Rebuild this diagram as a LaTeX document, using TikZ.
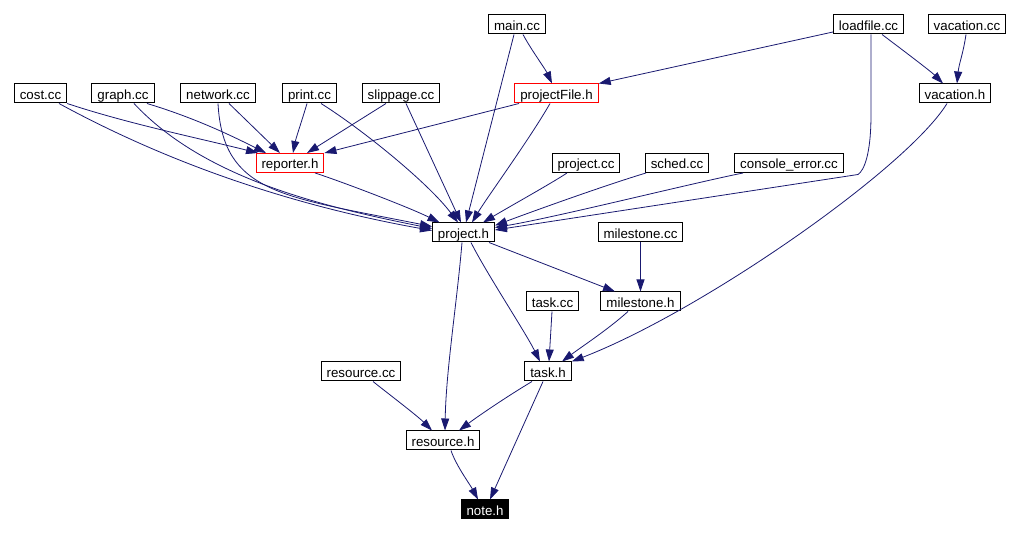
\documentclass[tikz,border=0pt]{standalone}
\usepackage{fontspec}
\setmainfont{Liberation Sans}
\usetikzlibrary{arrows.meta}
\definecolor{inkedge}{HTML}{191970}
\definecolor{inkred}{HTML}{FF0000}
\newcommand{\filebox}[4][]{%
  \node[draw=black, line width=1pt, fill=white, minimum height=19pt,
        inner xsep=5.5pt, inner ysep=0pt, text height=11.5pt, text depth=0pt,
        text=black, #1] (#2) at (#3) {#4};}

\begin{document}
\begin{tikzpicture}[x=1pt, y=-1pt, font=\fontsize{13.3}{16}\selectfont,
    dep/.style={-{Triangle[length=12pt, width=8pt]}, inkedge, line width=0.8pt}]
  \useasboundingbox (0,0) rectangle (1021,534);
  % sources and headers, row by row
  \filebox{main}{517,24.5}{main.cc}
  \filebox{loadfile}{868.5,24.5}{loadfile.cc}
  \filebox{vacationcc}{967,24.5}{vacation.cc}
  \filebox{cost}{40.5,93.5}{cost.cc}
  \filebox{graph}{123,93.5}{graph.cc}
  \filebox{network}{218,93.5}{network.cc}
  \filebox{print}{309.5,93.5}{print.cc}
  \filebox{slippage}{401,93.5}{slippage.cc}
  \filebox[draw=inkred]{projectFile}{556.5,93.5}{projectFile.h}
  \filebox{vacationh}{955,93.5}{vacation.h}
  \filebox[draw=inkred]{reporter}{290,163}{reporter.h}
  \filebox{projectcc}{586,163}{project.cc}
  \filebox{sched}{677,163}{sched.cc}
  \filebox{console}{789,163}{console\_error.cc}
  \filebox{project}{463.5,232.5}{project.h}
  \filebox{milestonecc}{640.5,232.5}{milestone.cc}
  \filebox{milestoneh}{640.5,301.5}{milestone.h}
  \filebox{taskcc}{552.5,301.5}{task.cc}
  \filebox{taskh}{548,371.5}{task.h}
  \filebox{resourcecc}{361,371.5}{resource.cc}
  \filebox{resourceh}{443,440.5}{resource.h}
  \filebox[fill=black, text=white]{note}{485,509.5}{note.h}
  % top row
  \draw[dep] ([xshift=6pt]main.south) .. controls +(8,15) and +(-7,-15) .. ([xshift=-4.5pt]projectFile.north);
  \draw[dep] ([xshift=-3pt]main.south) -- ([xshift=2.5pt]project.north);
  \draw[dep] ([yshift=-7.5pt]loadfile.west) -- (projectFile.north east);
  \draw[dep] ([xshift=13.5pt]loadfile.south) .. controls +(20,15) and +(-12,-12) .. ([xshift=-12pt]vacationh.north);
  \draw[dep] ([xshift=2.5pt]loadfile.south) -- ++(0,80) .. controls +(0,40) and +(6,-4) .. ++(-13,60) -- ([yshift=2.5pt]project.east);
  \draw[dep] ([xshift=-1pt]vacationcc.south) .. controls +(-3,20) and +(2,-20) .. ([xshift=2pt]vacationh.north);
  % second row into reporter.h and project.h
  \draw[dep] (cost.south east) .. controls +(60,20) and +(-60,-15) .. ([xshift=-32pt]reporter.north);
  \draw[dep] ([xshift=18.5pt]cost.south) .. controls +(110,60) and +(-140,-25) .. ([yshift=2pt]project.west);
  \draw[dep] ([xshift=24pt]graph.south) .. controls +(50,15) and +(-30,-15) .. ([xshift=-24pt]reporter.north);
  \draw[dep] ([xshift=11pt]graph.south) .. controls +(70,75) and +(-110,-22) .. ([yshift=4pt]project.west);
  \draw[dep] ([xshift=11pt]network.south) -- ([xshift=-10pt]reporter.north);
  \draw[dep] (network.south) .. controls +(5,90) and +(-150,-30) .. ([yshift=6pt]project.west);
  \draw[dep] ([xshift=-2.5pt]print.south) .. controls +(-6,20) and +(3,-15) .. ([xshift=3pt]reporter.north);
  \draw[dep] ([xshift=11.5pt]print.south) .. controls +(40,25) and +(-30,-40) .. ([xshift=-5.5pt]project.north);
  \draw[dep] ([xshift=-15pt]slippage.south) -- ([xshift=17pt]reporter.north);
  \draw[dep] ([xshift=5pt]slippage.south) -- ([xshift=-2.5pt]project.north);
  \draw[dep] ([xshift=-37.5pt]projectFile.south) -- (reporter.north east);
  \draw[dep] ([xshift=-6.5pt]projectFile.south) .. controls +(-20,35) and +(15,-25) .. ([xshift=8.5pt]project.north);
  \draw[dep] ([xshift=25pt]reporter.south) .. controls +(25,8) and +(-30,-15) .. ([xshift=-24pt]project.north);
  \draw[dep] ([xshift=-19pt]projectcc.south) .. controls +(-15,10) and +(25,-15) .. ([xshift=19.5pt]project.north);
  \draw[dep] ([xshift=-31pt]sched.south) .. controls +(-40,12) and +(40,-15) .. ([yshift=7pt]project.east);
  \draw[dep] ([xshift=-46pt]console.south) .. controls +(-50,10) and +(60,-10) .. ([yshift=5pt]project.east);
  % lower part
  \draw[dep] ([xshift=25.5pt]project.south) -- ([xshift=-25.5pt]milestoneh.north);
  \draw[dep] ([xshift=7.5pt]project.south) .. controls +(15,30) and +(-15,-30) .. ([xshift=-8pt]taskh.north);
  \draw[dep] ([xshift=-1.5pt]project.south) .. controls +(-5,60) and +(1,-60) .. ([xshift=2pt]resourceh.north);
  \draw[dep] (milestonecc) -- (milestoneh);
  \draw[dep] ([xshift=-12.5pt]milestoneh.south) .. controls +(-20,18) and +(20,-15) .. ([xshift=14pt]taskh.north);
  \draw[dep] ([xshift=-0.5pt]taskcc.south) -- ([xshift=1pt]taskh.north);
  \draw[dep] ([xshift=-8pt]vacationh.south) .. controls +(-40,65) and +(130,-50) .. (taskh.north east);
  \draw[dep] ([xshift=-16pt]taskh.south) .. controls +(-25,15) and +(20,-15) .. ([xshift=16pt]resourceh.north);
  \draw[dep] ([xshift=-5pt]taskh.south) -- ([xshift=5pt]note.north);
  \draw[dep] ([xshift=12pt]resourcecc.south) .. controls +(15,12) and +(-15,-15) .. ([xshift=-11pt]resourceh.north);
  \draw[dep] ([xshift=8pt]resourceh.south) .. controls +(5,15) and +(-8,-15) .. ([xshift=-7pt]note.north);
\end{tikzpicture}
\end{document}
